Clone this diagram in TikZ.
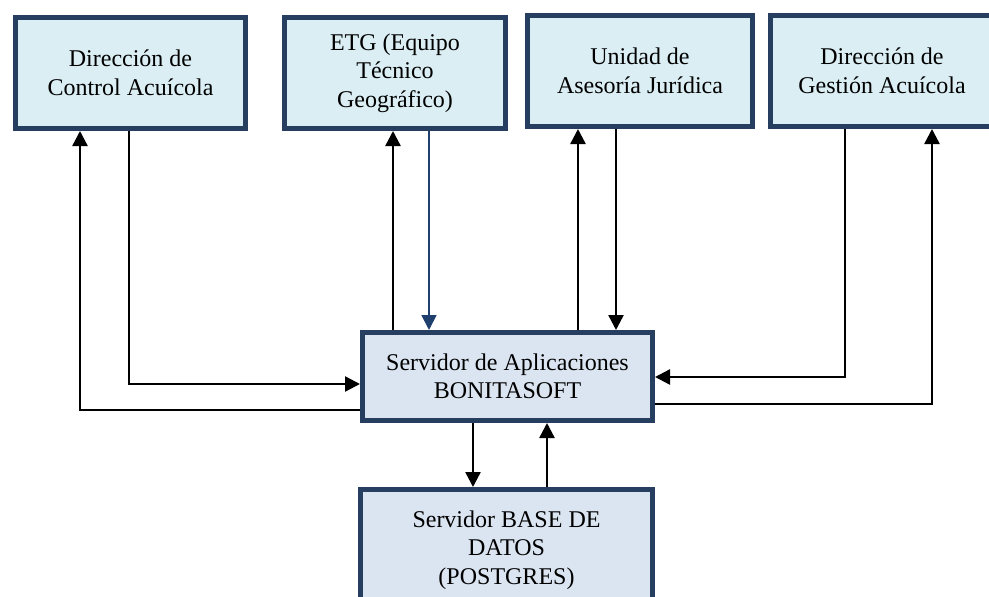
\documentclass[tikz,border=0pt]{standalone}
\usepackage{fontspec}
\setmainfont{Liberation Serif}
\usetikzlibrary{arrows.meta}

\definecolor{borde}{HTML}{263F61}
\definecolor{celeste}{HTML}{DAEEF3}
\definecolor{grisazul}{HTML}{DBE5F1}
\definecolor{azulflecha}{HTML}{1F3F6F}

\begin{document}
\begin{tikzpicture}[x=1pt,y=-1pt]
\tikzstyle{every node}=[font=\fontsize{24}{28.5}\selectfont]
\tikzstyle{caja}=[draw=borde, line width=5pt, align=center, inner sep=0pt]
\tikzstyle{flecha}=[line width=2.4pt, -{Triangle[length=15pt,width=15pt]}]

\useasboundingbox (0,0) rectangle (989,597);

% Draw the top boxes
\node[caja, fill=celeste, minimum width=230pt, minimum height=111pt] (dca) at (130.5,73) {Dirección de\\Control Acuícola};
\node[caja, fill=celeste, minimum width=221pt, minimum height=111pt] (etg) at (395,73) {ETG (Equipo\\Técnico\\Geográfico)};
\node[caja, fill=celeste, minimum width=225pt, minimum height=111pt] (uaj) at (640,71) {Unidad de\\Asesoría Jurídica};
\node[caja, fill=celeste, minimum width=223pt, minimum height=111pt] (dga) at (882,71) {Dirección de\\Gestión Acuícola};

% Draw the application server
\node[caja, fill=grisazul, minimum width=290pt, minimum height=88pt] (srv) at (507.5,376.5) {Servidor de Aplicaciones\\BONITASOFT};

% Draw the database server
\node[caja, fill=grisazul, minimum width=292pt, minimum height=121pt] (bdd) at (506.5,550) {Servidor BASE DE\\DATOS\\(POSTGRES)};

% Draw the connections on the left
\draw[flecha] (srv.west |- 0,410) -| (dca.south -| 80,0);
\draw[flecha] (dca.south -| 129,0) |- (srv.west |- 0,384);

% Draw the connections to ETG and the legal unit
\draw[flecha] (srv.north -| 393,0) -- (etg.south -| 393,0);
\draw[flecha, azulflecha, line width=1.8pt] (etg.south -| 429,0) -- (srv.north -| 429,0);
\draw[flecha] (srv.north -| 578,0) -- (uaj.south -| 578,0);
\draw[flecha] (uaj.south -| 616,0) -- (srv.north -| 616,0);

% Draw the connections on the right
\draw[flecha] (dga.south -| 845,0) |- (srv.east |- 0,377);
\draw[flecha] (srv.east |- 0,404) -| (dga.south -| 932,0);

% Draw the connections to the database
\draw[flecha] (srv.south -| 473,0) -- (bdd.north -| 473,0);
\draw[flecha] (bdd.north -| 547,0) -- (srv.south -| 547,0);

\end{tikzpicture}
\end{document}
